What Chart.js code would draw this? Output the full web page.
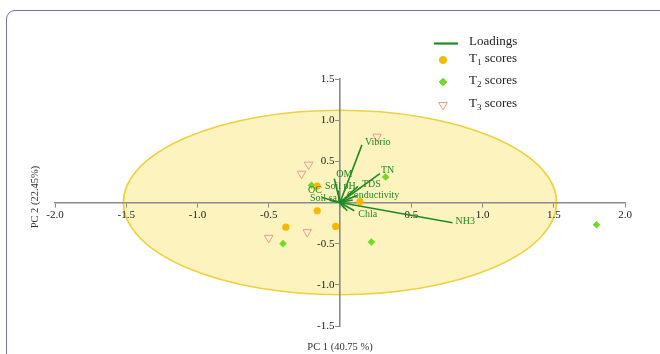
<!DOCTYPE html>
<html><head><meta charset="utf-8">
<script src="https://cdn.jsdelivr.net/npm/chart.js@4/dist/chart.umd.min.js"></script>
<style>
html,body{margin:0;padding:0;background:#fff;overflow:hidden}
#wrap{position:relative;width:660px;height:354px}
#frame{position:absolute;left:6px;top:10px;width:720px;height:420px;border:1.5px solid #7272ae;border-radius:9px;box-sizing:border-box}
canvas{position:absolute;left:0;top:0}
</style></head>
<body><div id="wrap"><div id="frame"></div><canvas id="c" width="660" height="354"></canvas></div>
<script>
// ---- data ----
const loadingNames = ['Vibrio','TN','TDS','Conductivity','NH3','Chla','OM','Soil pH','OC','Soil sal','','',''];
const loadingX = [0.154, 0.28, 0.126, 0.12, 0.79, 0.10, -0.04, -0.014, -0.126, -0.07, 0.05, 0.03, 0.09];
const loadingY = [0.70, 0.35, 0.195, 0.085, -0.245, -0.10, 0.29, 0.146, 0.06, 0.024, -0.10, -0.07, 0.03];
const t1X = [-0.16, -0.16, -0.38, -0.03, 0.14];
const t1Y = [0.20, -0.10, -0.30, -0.29, 0.01];
const t2X = [-0.20, -0.40, 0.22, 0.32, 1.80];
const t2Y = [0.21, -0.50, -0.48, 0.31, -0.27];
const t3X = [0.26, -0.22, -0.27, -0.23, -0.50];
const t3Y = [0.80, 0.46, 0.35, -0.36, -0.43];
const xTicks = [-2.0, -1.5, -1.0, -0.5, 0.5, 1.0, 1.5, 2.0];
const yTicks = [-1.5, -1.0, -0.5, 0.5, 1.0, 1.5];
const ellipseRx = 1.52, ellipseRy = 1.12;
const xTitle = 'PC 1 (40.75 %)';
const yTitle = 'PC 2 (22.45%)';

// ---- styles ----
const labelOffsets = {
  'Vibrio':[3,-2], 'TN':[1,-3], 'TDS':[4,-2], 'Conductivity':[-10,0], 'NH3':[3,-1],
  'Chla':[4,4], 'OM':[2,-4], 'Soil pH':[-13,-4], 'OC':[-14,-7], 'Soil sal':[-20,-2]
};
const green = '#1f8a22';
const serif = "'Liberation Serif','DejaVu Serif',serif";

const pts = (xs, ys) => xs.map((x, i) => ({x, y: ys[i]}));

const datasets = loadingX.map((x, i) => ({
  type: 'scatter', label: loadingNames[i] || 'loading',
  data: [{x: 0, y: 0}, {x, y: loadingY[i]}],
  showLine: true, borderColor: green, borderWidth: 1.6, pointRadius: 0, pointHoverRadius: 0
}));
datasets.push({label: 'T3', data: pts(t3X, t3Y), pointStyle: 'triangle', rotation: 180, pointRadius: 5,
  backgroundColor: 'rgba(255,240,230,0.35)', borderColor: '#ee9c82', borderWidth: 1});
datasets.push({label: 'T1', data: pts(t1X, t1Y), pointStyle: 'circle', pointRadius: 3.6,
  backgroundColor: '#f6b800', borderColor: '#f6b800', borderWidth: 0});
datasets.push({label: 'T2', data: pts(t2X, t2Y), pointStyle: 'rectRot', pointRadius: 3.8,
  backgroundColor: '#74d824', borderColor: '#74d824', borderWidth: 0});

const ellipsePlugin = {
  id: 'ellipse',
  beforeDraw(chart) {
    const {ctx, scales: {x, y}} = chart;
    const cx = x.getPixelForValue(0), cy = y.getPixelForValue(0);
    const rx = x.getPixelForValue(ellipseRx) - cx, ry = cy - y.getPixelForValue(ellipseRy);
    ctx.save();
    ctx.beginPath();
    ctx.ellipse(cx, cy, rx, ry, 0, 0, Math.PI * 2);
    ctx.fillStyle = 'rgba(252,241,180,0.85)';
    ctx.fill();
    ctx.lineWidth = 1.6;
    ctx.strokeStyle = '#f0d040';
    ctx.stroke();
    ctx.restore();
  }
};

const textPlugin = {
  id: 'texts',
  afterDatasetsDraw(chart) {
    const {ctx, scales: {x, y}} = chart;
    ctx.save();
    // loading labels
    ctx.font = '10px ' + serif;
    ctx.fillStyle = green;
    ctx.textBaseline = 'middle';
    ctx.textAlign = 'left';
    loadingNames.forEach((n, i) => {
      if (!n) return;
      const o = labelOffsets[n] || [2, 0];
      ctx.fillText(n, x.getPixelForValue(loadingX[i]) + o[0], y.getPixelForValue(loadingY[i]) + o[1]);
    });
    // axis titles
    ctx.fillStyle = '#333';
    ctx.font = '10.5px ' + serif;
    ctx.textAlign = 'center';
    ctx.fillText(xTitle, x.getPixelForValue(0), 347);
    ctx.save();
    ctx.translate(35, 197);
    ctx.rotate(-Math.PI / 2);
    ctx.fillText(yTitle, 0, 0);
    ctx.restore();
    // legend
    const lx = 443, tx = 469;
    ctx.textAlign = 'left';
    ctx.fillStyle = '#222';
    ctx.font = '13px ' + serif;
    ctx.strokeStyle = green; ctx.lineWidth = 2.2;
    ctx.beginPath(); ctx.moveTo(434, 43.5); ctx.lineTo(458, 43.5); ctx.stroke();
    ctx.fillText('Loadings', tx, 42);
    const entries = [
      {sub: '1', y: 60, style: 'circle', r: 3.6, fill: '#f6b800', stroke: '#f6b800', rot: 0},
      {sub: '2', y: 82, style: 'rectRot', r: 3.8, fill: '#74d824', stroke: '#74d824', rot: 0},
      {sub: '3', y: 105, style: 'triangle', r: 5, fill: 'rgba(255,240,230,0.35)', stroke: '#ee9c82', rot: 180}
    ];
    entries.forEach(e => {
      ctx.fillStyle = e.fill; ctx.strokeStyle = e.stroke; ctx.lineWidth = 1;
      Chart.helpers.drawPoint(ctx, {pointStyle: e.style, radius: e.r, rotation: e.rot, borderWidth: 1}, lx, e.y);
      ctx.fillStyle = '#222';
      ctx.font = '13px ' + serif;
      ctx.fillText('T', tx, e.y - 1);
      const tw = ctx.measureText('T').width;
      ctx.font = '9px ' + serif;
      ctx.fillText(e.sub, tx + tw, e.y + 3);
      const sw = ctx.measureText(e.sub).width;
      ctx.font = '13px ' + serif;
      ctx.fillText(' scores', tx + tw + sw, e.y - 1);
    });
    ctx.restore();
  }
};

const tickOpts = (vals, suffix) => ({
  font: {family: serif, size: 11},
  color: '#222',
  padding: 2,
  callback: v => (vals.some(t => Math.abs(t - v) < 1e-9) ? Number(v).toFixed(1) + suffix : '')
});

new Chart(document.getElementById('c'), {
  type: 'scatter',
  data: {datasets},
  options: {
    responsive: false, animation: false,
    layout: {padding: {left: 55, right: 35, top: 79, bottom: 28}},
    plugins: {legend: {display: false}, tooltip: {enabled: false}},
    scales: {
      x: {
        type: 'linear', min: -2, max: 2, position: {y: 0},
        afterBuildTicks: s => { s.ticks = [-2,-1.5,-1,-0.5,0,0.5,1,1.5,2].map(v => ({value: v})); },
        ticks: tickOpts(xTicks, ''),
        grid: {drawOnChartArea: false, drawTicks: true, tickLength: 4, color: '#8a8a8a', lineWidth: 1},
        border: {color: '#8a8a8a', width: 1.6}
      },
      y: {
        type: 'linear', min: -1.5, max: 1.5, position: {x: 0},
        afterBuildTicks: s => { s.ticks = [-1.5,-1,-0.5,0,0.5,1,1.5].map(v => ({value: v})); },
        ticks: tickOpts(yTicks, '  '),
        grid: {drawOnChartArea: false, drawTicks: true, tickLength: 4, color: '#8a8a8a', lineWidth: 1},
        border: {color: '#8a8a8a', width: 1.6}
      }
    }
  },
  plugins: [ellipsePlugin, textPlugin]
});
</script></body></html>
